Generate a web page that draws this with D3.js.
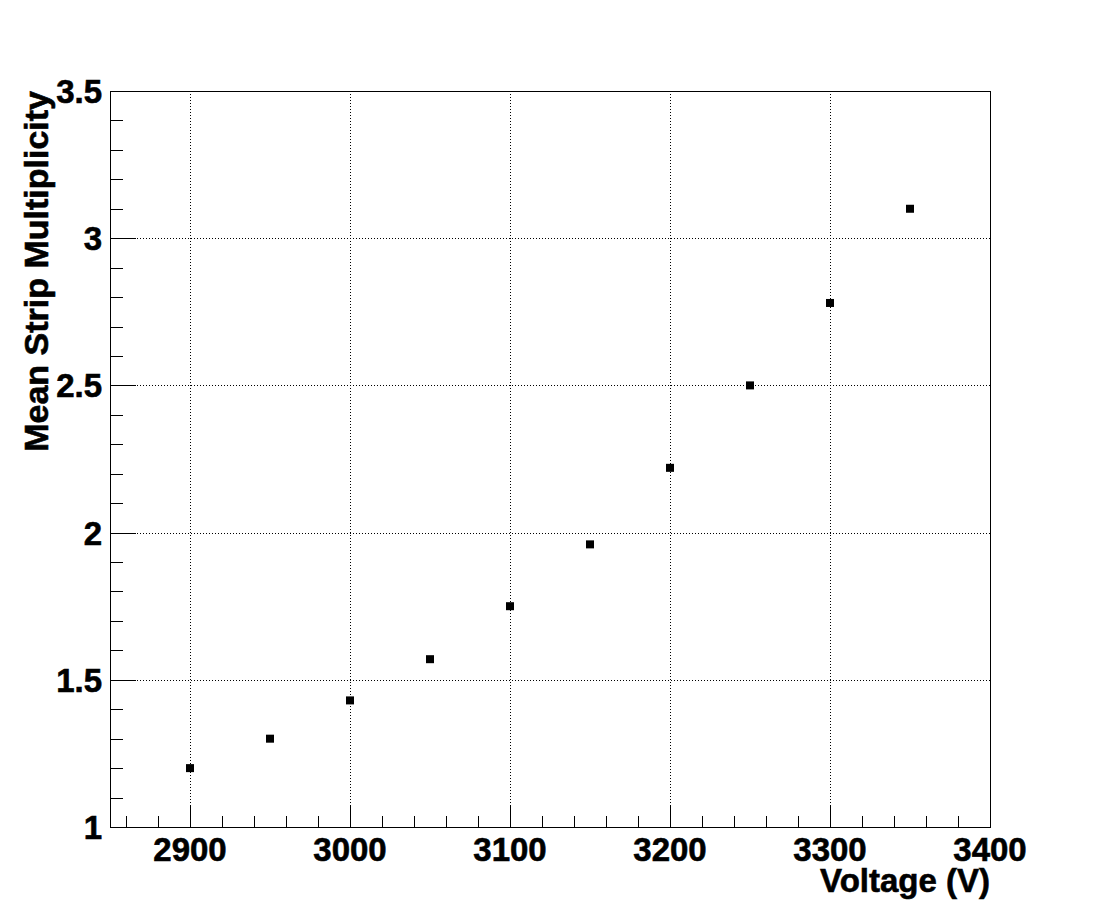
<!DOCTYPE html>
<html><head><meta charset="utf-8">
<script src="https://cdn.jsdelivr.net/npm/d3@7"></script>
<style>body{margin:0;background:#fff;} svg{display:block;} text{font-family:"Liberation Sans",Arial,Helvetica,sans-serif;font-weight:bold;fill:#000;stroke:#000;stroke-width:0.6px;}</style>
</head><body>
<script>
const voltages = [2900, 2950, 3000, 3050, 3100, 3150, 3200, 3250, 3300, 3350];
const multiplicity = [1.20, 1.30, 1.43, 1.57, 1.75, 1.96, 2.22, 2.50, 2.78, 3.10];
const xTicks = [2900, 3000, 3100, 3200, 3300, 3400];
const yTicks = [1, 1.5, 2, 2.5, 3, 3.5];
const yTickLabels = ["1", "1.5", "2", "2.5", "3", "3.5"];
const xTitle = "Voltage (V)";
const yTitle = "Mean Strip Multiplicity";

const W = 1101, H = 919;
const L = 110, R = 990, T = 91, B = 827;
const svg = d3.select("body").append("svg").attr("width", W).attr("height", H);
const x = d3.scaleLinear().domain([2850, 3400]).range([L, R]);
const y = d3.scaleLinear().domain([1, 3.5]).range([B, T]);

// grid
const grid = svg.append("g").attr("stroke", "#000").attr("stroke-width", 1).attr("stroke-dasharray", "1,2");
grid.selectAll(".gx").data(xTicks.filter(v => v > 2850 && v < 3400)).enter().append("line")
  .attr("x1", d => Math.round(x(d)) + 0.5).attr("x2", d => Math.round(x(d)) + 0.5).attr("y1", T).attr("y2", B);
grid.selectAll(".gy").data(yTicks.filter(v => v > 1 && v < 3.5)).enter().append("line")
  .attr("y1", d => Math.round(y(d)) + 0.5).attr("y2", d => Math.round(y(d)) + 0.5).attr("x1", L).attr("x2", R);

// frame
svg.append("rect").attr("x", L + 0.5).attr("y", T + 0.5).attr("width", R - L).attr("height", B - T)
  .attr("fill", "none").attr("stroke", "#000").attr("stroke-width", 1);

// axis ticks
const xMinor = d3.range(2860, 3400, 20).filter(v => v % 100 !== 0);
const ax = svg.append("g").attr("stroke", "#000").attr("stroke-width", 1);
ax.selectAll(".xmaj").data(xTicks.filter(v => v < 3400)).enter().append("line")
  .attr("x1", d => Math.round(x(d)) + 0.5).attr("x2", d => Math.round(x(d)) + 0.5).attr("y1", B).attr("y2", B - 22);
ax.selectAll(".xmin").data(xMinor).enter().append("line")
  .attr("x1", d => Math.round(x(d)) + 0.5).attr("x2", d => Math.round(x(d)) + 0.5).attr("y1", B).attr("y2", B - 11);
const yMinor = d3.range(1.1, 3.5, 0.1).filter(v => Math.abs(v * 2 - Math.round(v * 2)) > 1e-6);
ax.selectAll(".ymaj").data(yTicks.filter(v => v > 1 && v < 3.5)).enter().append("line")
  .attr("y1", d => Math.round(y(d)) + 0.5).attr("y2", d => Math.round(y(d)) + 0.5).attr("x1", L).attr("x2", L + 26);
ax.selectAll(".ymin").data(yMinor).enter().append("line")
  .attr("y1", d => Math.round(y(d)) + 0.5).attr("y2", d => Math.round(y(d)) + 0.5).attr("x1", L).attr("x2", L + 13);

// tick labels
svg.selectAll(".xl").data(xTicks).enter().append("text")
  .attr("x", d => x(d)).attr("y", 861).attr("text-anchor", "middle").attr("font-size", 33).text(d => d);
svg.selectAll(".yl").data(yTicks).enter().append("text")
  .attr("x", 102).attr("y", d => y(d) + 12).attr("text-anchor", "end").attr("font-size", 33)
  .text((d, i) => yTickLabels[i]);

// titles
svg.append("text").attr("x", R).attr("y", 892).attr("text-anchor", "end").attr("font-size", 33).text(xTitle);
svg.append("text").attr("transform", `translate(48,${T}) rotate(-90)`).attr("text-anchor", "end")
  .attr("font-size", 34).text(yTitle);

// points
svg.selectAll(".pt").data(voltages).enter().append("rect")
  .attr("x", (d) => x(d) - 4).attr("y", (d, i) => y(multiplicity[i]) - 4)
  .attr("width", 8).attr("height", 8).attr("fill", "#000");
</script>
</body></html>
